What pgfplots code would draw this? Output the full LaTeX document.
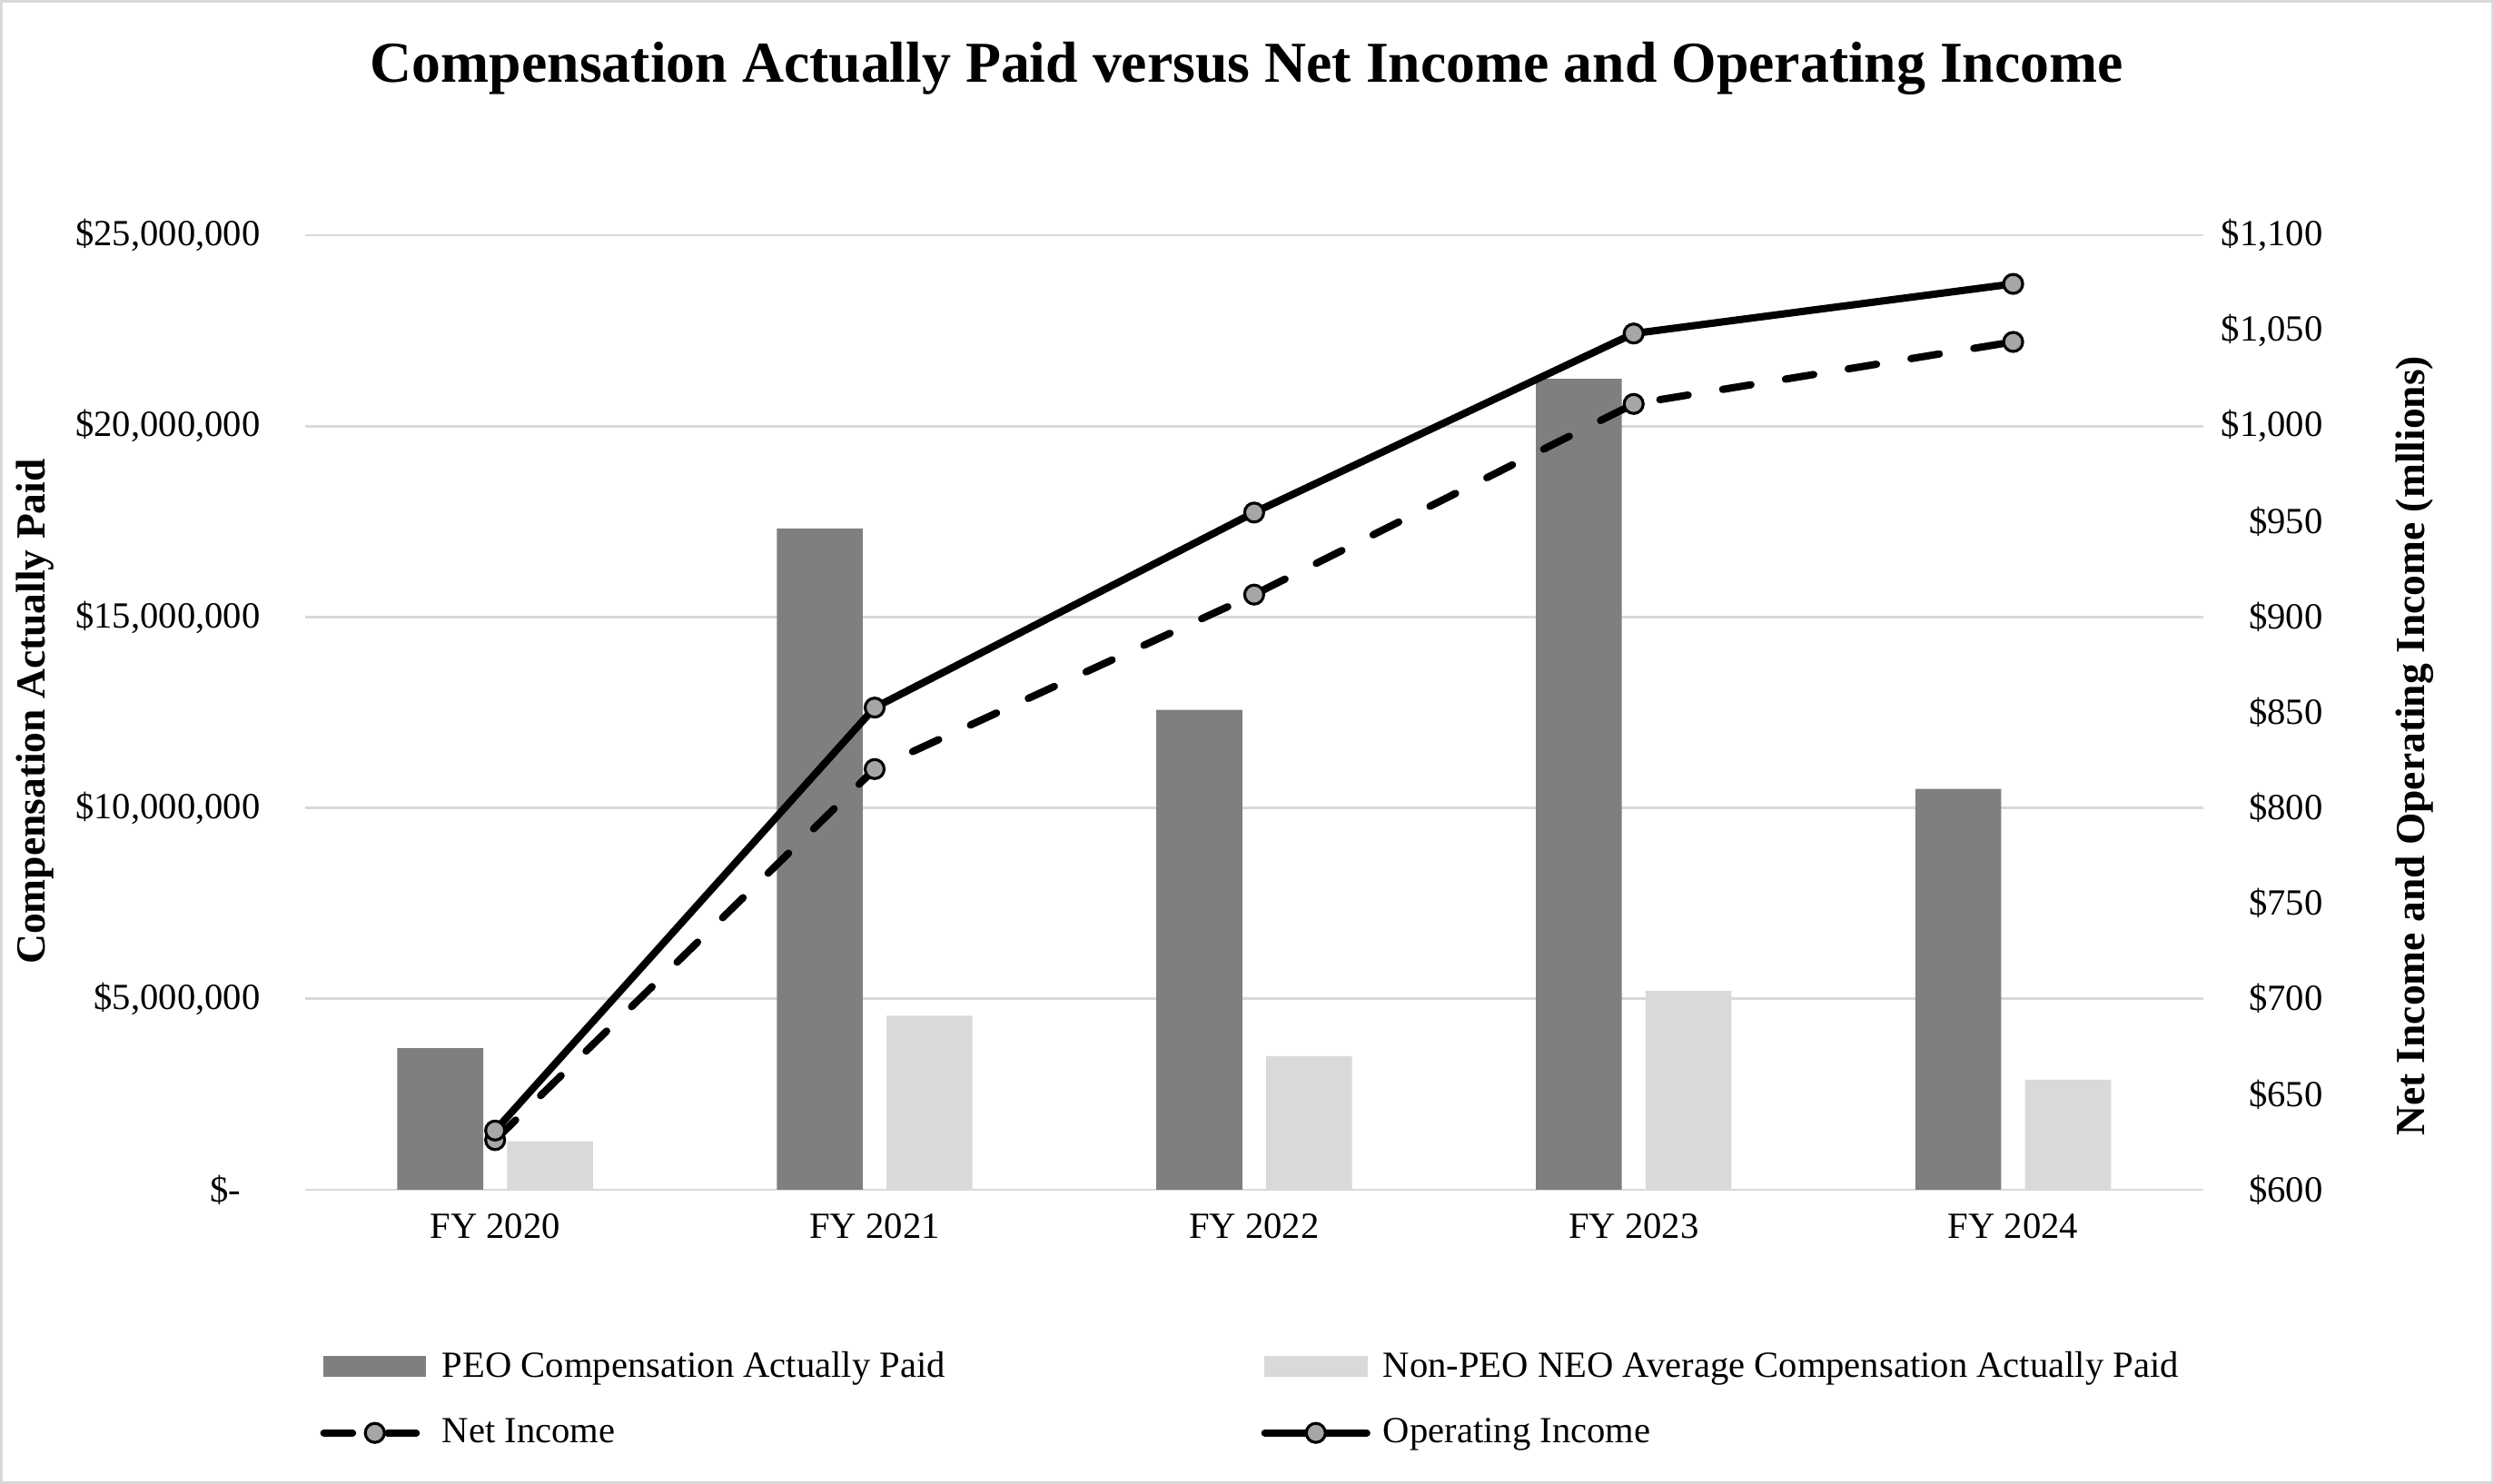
\documentclass[border=0pt]{standalone}
\usepackage{fontspec}
\setmainfont{Liberation Serif}
\usepackage{pgfplots}
\pgfplotsset{compat=1.18}
\definecolor{peo}{HTML}{7F7F7F}
\definecolor{neo}{HTML}{D9D9D9}
\definecolor{gridc}{HTML}{D9D9D9}
\definecolor{mk}{HTML}{A6A6A6}
\pgfplotsset{
  base/.style={
    at={(96pt,92.5pt)}, anchor=south west,
    scale only axis, width=596.5pt, height=300pt,
    xmin=-0.5, xmax=4.5,
    axis line style={draw=none},
    major tick length=0pt,
    scaled y ticks=false,
    tick label style={font=\fontsize{11.6}{14}\selectfont},
    label style={font=\fontsize{13}{15}\selectfont\bfseries},
  },
  lineleg/.style={legend image code/.code={%
    \draw[##1, mark repeat=2, mark phase=2] plot coordinates {(0pt,0pt)(16pt,0pt)(32pt,0pt)};}},
}
\begin{document}
\begin{tikzpicture}
\draw[gridc, line width=0.9pt] (0.45pt,0.45pt) rectangle (783.55pt,466.05pt);
\node[anchor=base, font=\fontsize{18.2}{22}\selectfont\bfseries] at (392pt,440.8pt)
  {Compensation Actually Paid versus Net Income and Operating Income};

% bars, left axis
\begin{axis}[base,
  ymin=0, ymax=25000000,
  ytick={0,5000000,10000000,15000000,20000000,25000000},
  yticklabels={{\$-\hspace*{6pt}},{\$5,000,000},{\$10,000,000},{\$15,000,000},{\$20,000,000},{\$25,000,000}},
  xtick={0,1,2,3,4},
  xticklabels={FY 2020,FY 2021,FY 2022,FY 2023,FY 2024},
  xticklabel style={anchor=north, inner sep=0pt, yshift=-7.5pt},
  yticklabel style={anchor=east, inner sep=0pt, xshift=-14pt},
  ymajorgrids, grid style={gridc, line width=0.75pt},
  ylabel={Compensation Actually Paid},
  ylabel style={at={(axis description cs:-0.1425,0.501)}, anchor=center, rotate=0},
]
\addplot[ybar, bar width=27pt, bar shift=-17.25pt, fill=peo, draw=none]
  coordinates {(0,3710000)(1,17320000)(2,12570000)(3,21240000)(4,10500000)};
\addplot[ybar, bar width=27pt, bar shift=17.25pt, fill=neo, draw=none]
  coordinates {(0,1270000)(1,4560000)(2,3500000)(3,5210000)(4,2880000)};
\end{axis}

% lines, right axis
\begin{axis}[base,
  ymin=600, ymax=1100,
  ytick={600,650,700,750,800,850,900,950,1000,1050,1100},
  yticklabels={\$600,\$650,\$700,\$750,\$800,\$850,\$900,\$950,{\$1,000},{\$1,050},{\$1,100}},
  yticklabel pos=right,
  xtick=\empty,
  yticklabel style={anchor=west, inner sep=0pt, xshift=5.5pt, text width=32pt, align=right},
  ylabel={Net Income and Operating Income (mllions)},
  ylabel style={at={(axis description cs:1.1115,0.465)}, anchor=center},
  legend columns=2, legend cell align=left,
  legend style={at={(axis description cs:0.0075,-0.1687)}, anchor=north west,
    draw=none, fill=none, inner sep=0pt, nodes={inner sep=0pt},
    font=\fontsize{11.6}{14}\selectfont, row sep=11.5pt,
    /tikz/every odd column/.append style={column sep=4pt},
    /tikz/every even column/.append style={column sep=7.5pt}},
]
\addlegendimage{legend image code/.code={\fill[peo] (0pt,-3pt) rectangle (32pt,3pt);}}
\addlegendentry{\makebox[250pt][l]{PEO Compensation Actually Paid}}
\addlegendimage{legend image code/.code={\fill[neo] (0pt,-3pt) rectangle (32pt,3pt);}}
\addlegendentry{Non-PEO NEO Average Compensation Actually Paid}
\addplot[black, line width=2.3pt, dash pattern=on 9pt off 11pt, line cap=round, line join=round,
  mark=*, mark size=3pt, mark options={solid, fill=mk, draw=black, line width=0.9pt}, lineleg]
  coordinates {(0,626)(1,820.4)(2,911.8)(3,1011.7)(4,1044.2)};
\addlegendentry{\makebox[250pt][l]{Net Income}}
\addplot[black, line width=2.3pt, line cap=round, line join=round,
  mark=*, mark size=3pt, mark options={solid, fill=mk, draw=black, line width=0.9pt}, lineleg]
  coordinates {(0,631)(1,852.6)(2,954.8)(3,1048.6)(4,1074.6)};
\addlegendentry{Operating Income}
\end{axis}
\end{tikzpicture}
\end{document}
